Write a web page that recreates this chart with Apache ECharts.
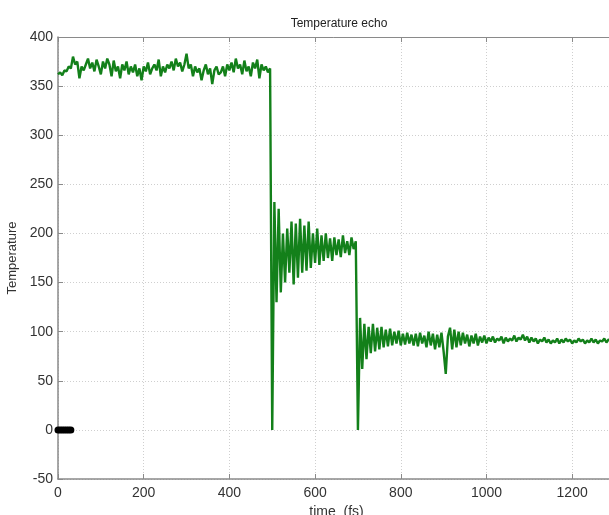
<!DOCTYPE html>
<html>
<head>
  <meta charset="utf-8">
  <title>Temperature echo</title>
  <script src="https://cdn.jsdelivr.net/npm/echarts@6/dist/echarts.min.js"></script>
  <style>
    html, body { margin: 0; padding: 0; background: #fff; }
    #main { width: 609px; height: 515px; }
  </style>
</head>
<body>
<div id="main"></div>
<script>
  // sampling of the trace (fs)
  var tStart = 0;
  var tStep = 5;

  // 0 - 495 fs : hot plateau
  var phaseHot = [
    362,364,361,366,365,370,368,380,372,375,358,370,366,372,378,368,374,365,377,370,
    362,375,368,378,372,360,376,365,370,358,372,366,375,362,370,364,372,360,368,356,
    370,365,374,362,368,372,366,377,360,370,364,372,368,375,366,378,370,374,365,372,
    383,368,372,360,370,364,368,356,366,372,362,368,352,366,370,362,364,370,360,372,
    366,374,364,378,368,372,362,376,365,370,360,374,368,377,358,372,366,370,364,368
  ];
  // 500 - 695 fs : first echo
  var phaseMid = [
    0,232,130,225,140,200,150,205,160,212,148,210,155,215,160,208,162,212,165,200,
    170,205,168,198,172,200,175,195,172,196,178,194,176,198,180,192,178,196,184,192
  ];
  // 700 - 1290 fs : second echo
  var phaseLow = [
    0,114,62,108,72,105,78,108,80,104,82,105,84,102,85,103,86,100,88,101,
    86,98,87,99,88,97,86,98,85,99,88,96,84,100,86,98,82,97,84,99,
    80,57,95,104,82,102,84,100,86,99,88,97,85,96,88,98,86,95,89,96,
    88,94,90,95,89,93,91,95,88,94,90,93,91,96,90,94,92,97,91,95,
    89,94,90,93,88,92,90,94,89,92,88,91,89,93,88,92,89,93,90,92,
    88,91,89,93,90,92,88,91,89,93,89,92,88,91,90,93,89,92,91
  ];
  // black marker run at the origin
  var markerT = [0, 5, 10, 15, 20, 25, 30];
  var markerV = [0, 0, 0, 0, 0, 0, 0];

  var xTicks = { min: 0, max: 1300, interval: 200 };
  var yTicks = { min: -50, max: 400, interval: 50 };

  var trace = [];
  phaseHot.concat(phaseMid, phaseLow).forEach(function (v, i) {
    trace.push([tStart + i * tStep, v]);
  });
  var marker = markerT.map(function (t, i) { return [t, markerV[i]]; });

  var font = 'Liberation Sans, Arial, sans-serif';
  var axisGray = '#8a8a8a';

  var myChart = echarts.init(document.getElementById('main'));
  var option = {
    backgroundColor: '#fff',
    animation: false,
    title: {
      text: 'Temperature echo',
      left: 334, top: 13,
      textAlign: 'center',
      textStyle: { fontFamily: font, fontSize: 12, fontWeight: 'normal', color: '#222' }
    },
    grid: { left: 58, right: -6, top: 37, bottom: 36, containLabel: false, outerBoundsMode: 'none' },
    xAxis: [{
      type: 'value',
      min: xTicks.min, max: xTicks.max, interval: xTicks.interval,
      name: 'time  (fs)', nameLocation: 'middle', nameGap: 26,
      nameTextStyle: { fontFamily: font, fontSize: 14, color: '#333' },
      axisLine: { onZero: false, lineStyle: { color: axisGray, width: 1.5 } },
      axisTick: { inside: true, length: 5, lineStyle: { color: axisGray } },
      axisLabel: {
        fontFamily: font, fontSize: 14, color: '#333', margin: 7,
        formatter: function (v) { return v > 1200 ? '' : String(v); }
      },
      splitLine: { show: true, lineStyle: { color: '#cfcfcf', type: [1, 2] } }
    }, {
      type: 'value', position: 'top',
      min: xTicks.min, max: xTicks.max, interval: xTicks.interval,
      axisLine: { onZero: false, lineStyle: { color: axisGray, width: 1 } },
      axisTick: { inside: true, length: 5, lineStyle: { color: axisGray } },
      axisLabel: { show: false },
      splitLine: { show: false }
    }],
    yAxis: {
      type: 'value',
      min: yTicks.min, max: yTicks.max, interval: yTicks.interval,
      name: 'Temperature', nameLocation: 'middle', nameGap: 28,
      nameTextStyle: { fontFamily: font, fontSize: 13, color: '#333' },
      axisLine: { show: true, onZero: false, lineStyle: { color: axisGray, width: 1.5 } },
      axisTick: { show: true, inside: true, length: 5, lineStyle: { color: axisGray } },
      axisLabel: { fontFamily: font, fontSize: 14, color: '#333', margin: 5 },
      splitLine: { show: true, lineStyle: { color: '#cfcfcf', type: [1, 2] } }
    },
    series: [{
      name: 'temperature',
      type: 'line',
      data: trace,
      showSymbol: false,
      lineStyle: { color: '#13801a', width: 2.4 },
      z: 2
    }, {
      name: 'marker',
      type: 'line',
      data: marker,
      symbol: 'circle',
      symbolSize: 7,
      itemStyle: { color: '#000' },
      lineStyle: { color: '#000', width: 6 },
      z: 3
    }]
  };
  myChart.setOption(option);
</script>
</body>
</html>
